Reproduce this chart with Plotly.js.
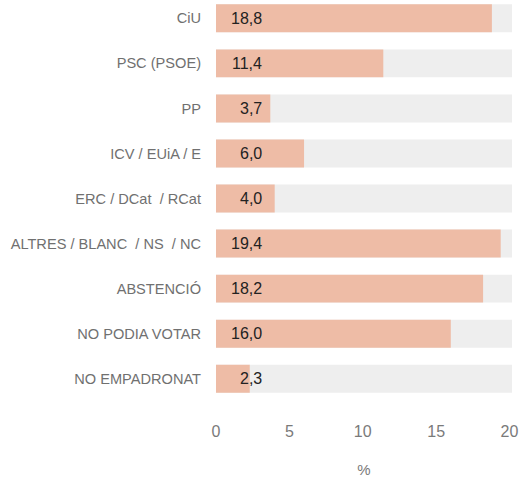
<!DOCTYPE html>
<html>
<head>
<meta charset="utf-8">
<script src="https://cdn.plot.ly/plotly-3.0.1.min.js"></script>
<style>html,body{margin:0;padding:0;background:#fff;}</style>
</head>
<body>
<div id="chart" style="width:524px;height:478px;"></div>
<script>
var categories = ["CiU", "PSC (PSOE)", "PP", "ICV / EUiA / E", "ERC / DCat  / RCat", "ALTRES / BLANC  / NS  / NC", "ABSTENCIÓ", "NO PODIA VOTAR", "NO EMPADRONAT"];
var values = [18.8, 11.4, 3.7, 6.0, 4.0, 19.4, 18.2, 16.0, 2.3];
var tickVals = [0, 5, 10, 15, 20];
var tickText = ["0", "5", "10", "15", "20"];
var xMax = 20.17;

var font = "Liberation Sans, Arial, sans-serif";

var bg = {
  type: "bar", orientation: "h",
  y: categories, x: categories.map(function(){ return xMax; }),
  marker: {color: "#eeeeee"}, width: 0.62, hoverinfo: "skip", showlegend: false
};
var fg = {
  type: "bar", orientation: "h",
  y: categories, x: values,
  marker: {color: "#eebca6"}, width: 0.62, hoverinfo: "skip", showlegend: false
};

var annotations = values.map(function(v, i){
  return {
    x: 3.3, y: categories[i], xref: "x", yref: "y",
    text: v.toFixed(1).replace(".", ","), showarrow: false,
    xanchor: "right", yanchor: "middle",
    font: {family: font, size: 16, color: "#222222"}
  };
});

var layout = {
  width: 524, height: 478,
  margin: {l: 216, r: 12, t: 0, b: 58, pad: 0},
  paper_bgcolor: "#ffffff", plot_bgcolor: "#ffffff",
  barmode: "overlay",
  showlegend: false,
  annotations: annotations,
  xaxis: {
    range: [0, xMax], tickvals: tickVals, ticktext: tickText,
    showgrid: false, zeroline: false, showline: false, ticks: "",
    tickfont: {family: font, size: 16, color: "#7a7a7a"},
    title: {text: "%", font: {family: font, size: 15, color: "#7a7a7a"}, standoff: 25},
    fixedrange: true
  },
  yaxis: {
    type: "category", range: [8.915, -0.406],
    showgrid: false, zeroline: false, showline: false, ticks: "",
    ticklabelstandoff: 14,
    tickfont: {family: font, size: 14.6, color: "#707070"},
    fixedrange: true
  }
};

Plotly.newPlot("chart", [bg, fg], layout, {displayModeBar: false, staticPlot: true});
</script>
</body>
</html>
